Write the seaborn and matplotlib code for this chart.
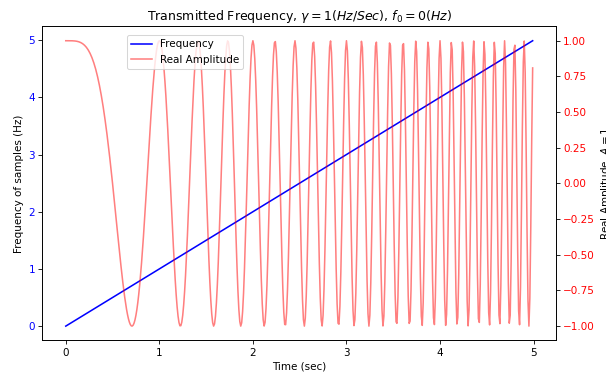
import numpy as np
import pandas as pd
import matplotlib
matplotlib.use("Agg")
import matplotlib.pyplot as plt
import seaborn as sns

# Chirp parameters given in the chart title
gamma = 1.0      # Hz/sec
f0 = 0.0         # Hz
t_start, t_stop, t_step = 0.0, 5.0, 0.01

time = np.arange(t_start, t_stop, t_step)
frequency = f0 + gamma * time
amplitude = np.cos(2 * np.pi * (f0 + gamma * time) * time)

df = pd.DataFrame({"Time": time, "Frequency": frequency, "Amplitude": amplitude})

fig = plt.figure(figsize=(8.08, 5.04), dpi=75)
ax = fig.add_axes([0.070, 0.0995, 0.8475, 0.8305])
ax2 = ax.twinx()

sns.lineplot(data=df, x="Time", y="Frequency", ax=ax, color="blue",
             label="Frequency", legend=False)
sns.lineplot(data=df, x="Time", y="Amplitude", ax=ax2, color="red", alpha=0.5,
             label="Real Amplitude", legend=False)

ax.set_xlabel("Time (sec)")
ax.set_ylabel("Frequency of samples (Hz)")
ax2.set_ylabel("Real Amplitude, $A=1$")
ax.set_title(r"Transmitted Frequency, $\gamma=1(Hz/Sec)$, $f_0=0(Hz)$")

ax.set_xticks([0, 1, 2, 3, 4, 5])
ax.set_yticks([0, 1, 2, 3, 4, 5])
ax.tick_params(axis="y", labelcolor="blue")
ax2.tick_params(axis="y", labelcolor="red")

h1, l1 = ax.get_legend_handles_labels()
h2, l2 = ax2.get_legend_handles_labels()
ax2.legend(h1 + h2, l1 + l2, loc="upper left", bbox_to_anchor=(0.164, 0.972),
           borderaxespad=0)

fig.savefig("out.png", dpi=75)
